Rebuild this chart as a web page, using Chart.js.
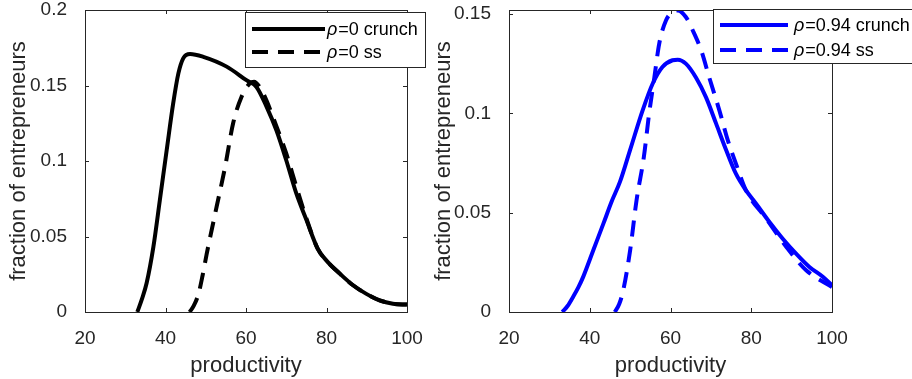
<!DOCTYPE html>
<html>
<head>
<meta charset="utf-8">
<script src="https://cdn.jsdelivr.net/npm/chart.js@4.4.1/dist/chart.umd.min.js"></script>
<style>
  html, body { margin: 0; padding: 0; background: #fff; }
  #wrap { position: relative; width: 912px; height: 379px; overflow: hidden; }
  #leftChart { position: absolute; left: 0; top: 0; }
  #rightChart { position: absolute; left: 400px; top: 0; }
</style>
</head>
<body>
<div id="wrap">
  <canvas id="leftChart" width="456" height="379"></canvas>
  <canvas id="rightChart" width="512" height="379"></canvas>
</div>
<script>
(function () {
    'use strict';

    // rho = 0 (left panel)
    var crunchX0 = [33, 34.2, 35.3, 37.0, 38.6, 40.3, 41.9, 43.2, 44.4, 46.1, 49.4, 55.2, 60.1, 62.6, 65.1, 67.6, 70.0, 72.5, 75.0, 77.8, 80.0, 83.3, 86.6, 89.9, 93.2, 96.5, 100];
    var crunchY0 = [0, 0.009, 0.019, 0.0433, 0.0742, 0.1073, 0.138, 0.158, 0.168, 0.1709, 0.169, 0.1625, 0.1535, 0.149, 0.136, 0.120, 0.1005, 0.0785, 0.061, 0.042, 0.034, 0.0254, 0.0177, 0.012, 0.0077, 0.0055, 0.0049];
    var ssX0 = [46.0, 47.0, 48.2, 49.2, 50.2, 52.7, 54.8, 56.8, 58.9, 61.0, 62.0, 63.4, 65.1, 67.6, 70.0, 72.5, 75.0, 77.8, 80.0, 83.3, 86.6, 89.9, 93.2, 96.5, 100];
    var ssY0 = [0, 0.004, 0.012, 0.024, 0.038, 0.0697, 0.096, 0.125, 0.1426, 0.1515, 0.1525, 0.149, 0.140, 0.1227, 0.105, 0.083, 0.062, 0.042, 0.034, 0.0254, 0.0177, 0.012, 0.0077, 0.0055, 0.0049];

    // rho = 0.94 (right panel)
    var crunchX1 = [33.2, 34.5, 35.9, 37.2, 38.4, 40.9, 43.4, 45.4, 47.5, 50.0, 53.1, 55.6, 58.0, 60.5, 61.8, 63.8, 66.3, 68.8, 71.3, 73.8, 76.2, 78.7, 81.2, 84.5, 87.8, 91.1, 94.4, 97.8, 100];
    var crunchY1 = [0, 0.003, 0.0077, 0.0125, 0.0178, 0.0312, 0.0446, 0.0555, 0.0656, 0.0816, 0.1015, 0.115, 0.1233, 0.1267, 0.127, 0.125, 0.118, 0.108, 0.0948, 0.0814, 0.0696, 0.0612, 0.0545, 0.0453, 0.0369, 0.0294, 0.0227, 0.0176, 0.0134];
    var ssX1 = [46.2, 47.3, 48.3, 50.0, 51.6, 53.4, 54.7, 56.0, 57.2, 58.9, 60.5, 61.8, 63.8, 65.5, 67.6, 69.6, 72.1, 74.2, 76.2, 78.7, 83.7, 88.7, 93.6, 100];
    var ssY1 = [0, 0.004, 0.011, 0.031, 0.0564, 0.078, 0.0998, 0.118, 0.135, 0.1468, 0.151, 0.1518, 0.1485, 0.1418, 0.1317, 0.118, 0.1015, 0.0864, 0.0747, 0.0612, 0.047, 0.0327, 0.021, 0.0126];

    var xTicks = [20, 40, 60, 80, 100];
    var yTicks0 = [0, 0.05, 0.1, 0.15, 0.2];
    var yTickLabels0 = ['0', '0.05', '0.1', '0.15', '0.2'];
    var yTicks1 = [0, 0.05, 0.1, 0.15];
    var yTickLabels1 = ['0', '0.05', '0.1', '0.15'];

    var AXIS_COLOR = '#262626';
    var FONT = '"Liberation Sans", Arial, sans-serif';
    var DASH = [16, 10];

    function pts(xs, ys) {
        return xs.map(function (x, i) { return { x: x, y: ys[i] }; });
    }

    // box around the axes with inward ticks, MATLAB style
    var axesBox = {
        id: 'axesBox',
        afterDatasetsDraw: function (chart) {
            var ctx = chart.ctx;
            var a = chart.chartArea;
            var x = chart.scales.x;
            var y = chart.scales.y;
            var tl = 4;
            ctx.save();
            ctx.strokeStyle = AXIS_COLOR;
            ctx.lineWidth = 1;
            ctx.strokeRect(Math.round(a.left) + 0.5, Math.round(a.top) + 0.5,
                Math.round(a.right - a.left), Math.round(a.bottom - a.top));
            ctx.beginPath();
            x.ticks.forEach(function (t) {
                var px = Math.round(x.getPixelForValue(t.value)) + 0.5;
                ctx.moveTo(px, a.bottom); ctx.lineTo(px, a.bottom - tl);
                ctx.moveTo(px, a.top); ctx.lineTo(px, a.top + tl);
            });
            y.ticks.forEach(function (t) {
                var py = Math.round(y.getPixelForValue(t.value)) + 0.5;
                ctx.moveTo(a.left, py); ctx.lineTo(a.left + tl, py);
                ctx.moveTo(a.right, py); ctx.lineTo(a.right - tl, py);
            });
            ctx.stroke();
            ctx.restore();
        }
    };

    // legend box inside the axes
    var boxLegend = {
        id: 'boxLegend',
        afterDraw: function (chart, args, opts) {
            var ctx = chart.ctx;
            ctx.save();
            ctx.fillStyle = '#fff';
            ctx.fillRect(opts.left, opts.top, opts.width, opts.height);
            ctx.strokeStyle = AXIS_COLOR;
            ctx.lineWidth = 1;
            ctx.strokeRect(opts.left + 0.5, opts.top + 0.5, opts.width, opts.height);
            chart.data.datasets.forEach(function (ds, i) {
                var ry = opts.rows[i];
                ctx.beginPath();
                ctx.strokeStyle = ds.borderColor;
                ctx.lineWidth = ds.borderWidth;
                ctx.setLineDash(ds.borderDash || []);
                ctx.moveTo(opts.lineStart, ry);
                ctx.lineTo(opts.lineEnd, ry);
                ctx.stroke();
                ctx.setLineDash([]);
                ctx.fillStyle = '#000';
                ctx.textBaseline = 'middle';
                ctx.textAlign = 'left';
                var greek = ds.label.charAt(0);
                var rest = ds.label.slice(1);
                ctx.font = 'italic 18px ' + FONT;
                ctx.fillText(greek, opts.textStart, ry + 1);
                var w = ctx.measureText(greek).width;
                ctx.font = '18px ' + FONT;
                ctx.fillText(rest, opts.textStart + w + 1, ry + 1);
            });
            ctx.restore();
        }
    };

    function makeChart(canvasId, sets, yMax, yTicks, yLabels, yWidth, titlePad, padRight, legendOpts) {
        var ctx = document.getElementById(canvasId).getContext('2d');
        return new Chart(ctx, {
            type: 'line',
            data: { datasets: sets },
            plugins: [axesBox, boxLegend],
            options: {
                responsive: false,
                animation: false,
                layout: { padding: { left: 0, right: padRight, top: 10, bottom: 0 } },
                elements: { point: { radius: 0 } },
                plugins: {
                    legend: { display: false },
                    tooltip: { enabled: false },
                    boxLegend: legendOpts
                },
                scales: {
                    x: {
                        type: 'linear',
                        min: 20,
                        max: 100,
                        afterBuildTicks: function (scale) {
                            scale.ticks = xTicks.map(function (v) { return { value: v }; });
                        },
                        afterFit: function (scale) {
                            scale.height = 67;
                            scale.paddingLeft = 0;
                            scale.paddingRight = 0;
                        },
                        grid: { display: false },
                        border: { display: false },
                        ticks: {
                            color: AXIS_COLOR,
                            padding: 7,
                            maxRotation: 0,
                            font: { family: FONT, size: 19 },
                            callback: function (v) { return String(v); }
                        },
                        title: {
                            display: true,
                            text: 'productivity',
                            color: AXIS_COLOR,
                            padding: { top: 0, bottom: 0 },
                            font: { family: FONT, size: 22 }
                        }
                    },
                    y: {
                        type: 'linear',
                        min: 0,
                        max: yMax,
                        afterBuildTicks: function (scale) {
                            scale.ticks = yTicks.map(function (v) { return { value: v }; });
                        },
                        afterFit: function (scale) {
                            scale.width = yWidth;
                            scale.paddingTop = 0;
                            scale.paddingBottom = 0;
                        },
                        grid: { display: false },
                        border: { display: false },
                        ticks: {
                            color: AXIS_COLOR,
                            padding: 10,
                            font: { family: FONT, size: 19 },
                            callback: function (v, i) { return yLabels[i]; }
                        },
                        title: {
                            display: true,
                            text: 'fraction of entrepreneurs',
                            color: AXIS_COLOR,
                            padding: { top: titlePad, bottom: 0 },
                            font: { family: FONT, size: 22 }
                        }
                    }
                }
            }
        });
    }

    function line(label, xs, ys, color, dashed) {
        return {
            label: label,
            data: pts(xs, ys),
            borderColor: color,
            borderWidth: 4,
            borderDash: dashed ? DASH : [],
            fill: false,
            cubicInterpolationMode: 'monotone',
            pointRadius: 0
        };
    }

    makeChart('leftChart', [
        line('ρ=0 crunch', crunchX0, crunchY0, '#000000', false),
        line('ρ=0 ss', ssX0, ssY0, '#000000', true)
    ], 0.2, yTicks0, yTickLabels0, 85, 6, 49, {
        left: 245, top: 12, width: 180, height: 55,
        rows: [29, 52], lineStart: 252, lineEnd: 325, textStart: 327
    });

    makeChart('rightChart', [
        line('ρ=0.94 crunch', crunchX1, crunchY1, '#0000ff', false),
        line('ρ=0.94 ss', ssX1, ssY1, '#0000ff', true)
    ], 0.152, yTicks1, yTickLabels1, 109, 31, 80, {
        left: 313, top: 9, width: 220, height: 54,
        rows: [25, 50], lineStart: 320, lineEnd: 388, textStart: 394
    });
})();
</script>
</body>
</html>
